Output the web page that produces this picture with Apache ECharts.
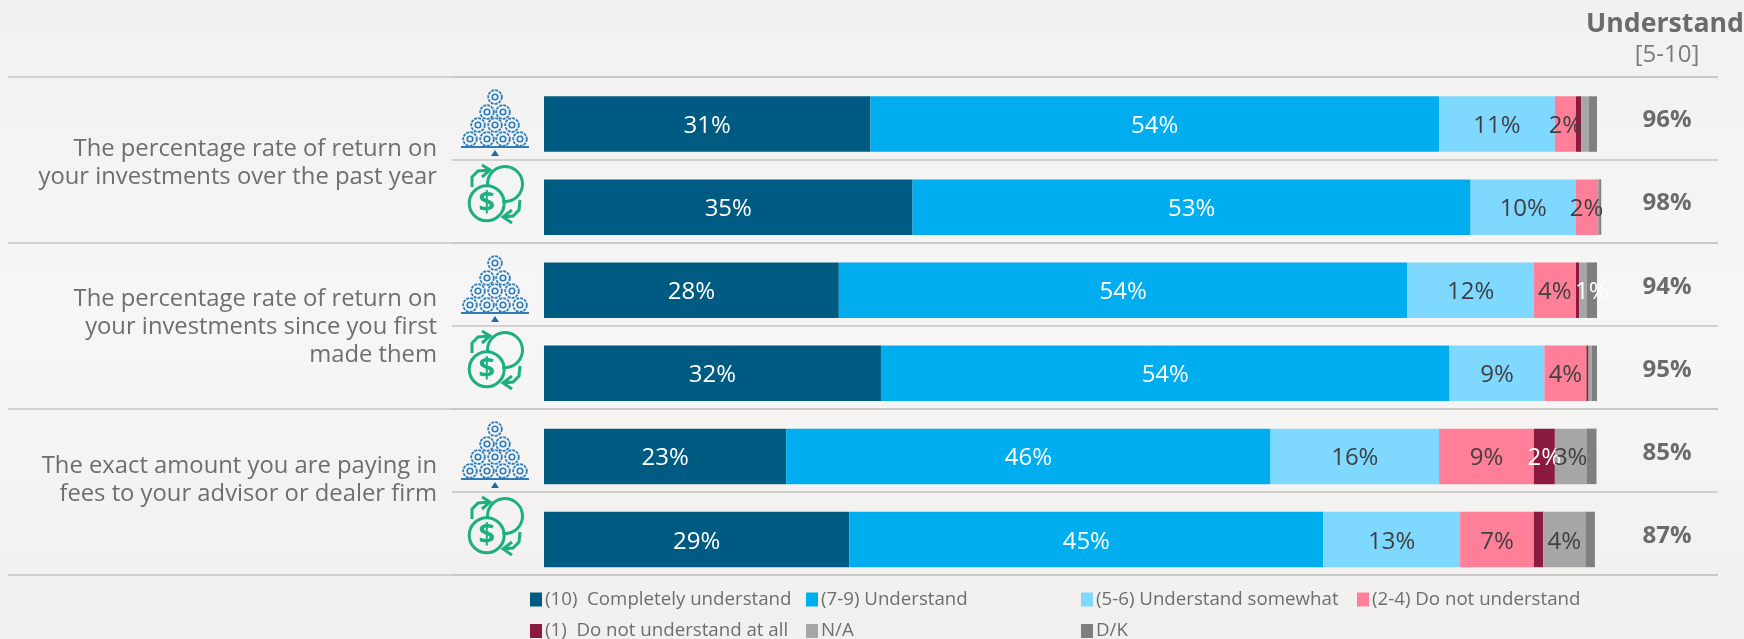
<!DOCTYPE html>
<html>
<head>
<meta charset="utf-8">
<style>html,body{margin:0;padding:0;background:#f5f4f4}#chart{width:1744px;height:639px}</style>
<script src="https://cdn.jsdelivr.net/npm/echarts@6/dist/echarts.min.js"></script>
</head>
<body>
<div id="chart"></div>
<script>
// Survey rows: each question is asked of two audiences, one row per audience.
const rows = ['Q1 A', 'Q1 B', 'Q2 A', 'Q2 B', 'Q3 A', 'Q3 B'];
const completely = [31, 35, 28, 32, 23, 29];
const understand = [54, 53, 54, 54, 46, 45];
const somewhat = [11, 10, 12, 9, 16, 13];
const doNot = [2, 2, 4, 4, 9, 7];
const notAtAll = [0.5, 0, 0.3, 0.2, 2, 0.9];
const notApplicable = [0.7, 0.2, 0.7, 0.3, 3, 4];
const dontKnow = [0.8, 0.2, 1, 0.5, 0.95, 0.9];
const understandTotals = ['96%', '98%', '94%', '95%', '85%', '87%'];
const questions = [
  'The percentage rate of return on\nyour investments over the past year',
  'The percentage rate of return on\nyour investments since you first\nmade them',
  'The exact amount you are paying in\nfees to your advisor or dealer firm'
];
const questionGroups = ['Q1', 'Q2', 'Q3'];
const seriesNames = ['(10)  Completely understand', '(7-9) Understand', '(5-6) Understand somewhat',
  '(2-4) Do not understand', '(1)  Do not understand at all', 'N/A', 'D/K'];

const FONT = '"Open Sans", "Noto Sans", sans-serif';
const seriesValues = [completely, understand, somewhat, doNot, notAtAll, notApplicable, dontKnow];
const colors = ['#005B82', '#00AEEF', '#7FD8FF', '#FF7F98', '#8B1A3F', '#A6A6A6', '#7F7F7F'];
const labelColors = ['#fff', '#fff', '#404040', '#404040', '#fff', '#404040', '#fff'];

const legendSlots = [[530, 0], [806, 0], [1081, 0], [1357, 0], [530, 1], [806, 1], [1081, 1]];
const RULE = { color: '#C6C6C6', width: 1.5 };

// Coin-stack icon, drawn around its top-left origin.
function coinIcon(ox, oy) {
  const blue = '#2A7DBA', out = [];
  const coin = [[55, 17], [47, 32], [63, 32], [38, 45], [55, 45], [72, 45], [30, 59], [47, 59], [63, 59], [80, 59]];
  coin.forEach(c => {
    out.push({ type: 'circle', shape: { cx: ox + c[0], cy: oy + c[1], r: 6.8 }, style: { fill: 'none', stroke: blue, lineWidth: 1.8, lineDash: [3, 1] }, silent: true });
    out.push({ type: 'circle', shape: { cx: ox + c[0], cy: oy + c[1], r: 2.8 }, style: { fill: 'none', stroke: blue, lineWidth: 1.6 }, silent: true });
  });
  out.push({ type: 'line', shape: { x1: ox + 21, y1: oy + 67, x2: ox + 89, y2: oy + 67 }, style: { stroke: blue, lineWidth: 2 }, silent: true });
  out.push({ type: 'polygon', shape: { points: [[ox + 55, oy + 70], [ox + 59, oy + 76], [ox + 51, oy + 76]] }, style: { fill: '#1F6AA5' }, silent: true });
  return out;
}

// Circulating-money icon: dollar coin, second coin and two return arrows.
function moneyIcon(ox, oy) {
  const green = '#1CAF80', st = { fill: 'none', stroke: green, lineWidth: 3 }, out = [];
  out.push({ type: 'circle', shape: { cx: ox + 46.7, cy: oy + 123.3, r: 17.5 }, style: st, silent: true });
  out.push({ type: 'arc', shape: { cx: ox + 65, cy: oy + 104, r: 17.5, startAngle: -Math.PI * 1.05, endAngle: Math.PI * 0.55 }, style: st, silent: true });
  out.push({ type: 'polyline', shape: { points: [[ox + 32, oy + 107], [ox + 32, oy + 97], [ox + 38, oy + 91], [ox + 50, oy + 90]] }, style: st, silent: true });
  out.push({ type: 'polyline', shape: { points: [[ox + 42, oy + 85], [ox + 50, oy + 90], [ox + 42, oy + 97]] }, style: st, silent: true });
  out.push({ type: 'polyline', shape: { points: [[ox + 80, oy + 120], [ox + 79, oy + 130], [ox + 73, oy + 136], [ox + 63, oy + 137]] }, style: st, silent: true });
  out.push({ type: 'polyline', shape: { points: [[ox + 72, oy + 130], [ox + 63, oy + 137], [ox + 72, oy + 143]] }, style: st, silent: true });
  out.push({ type: 'text', style: { x: ox + 46.7, y: oy + 123.5, text: '$', fill: green, font: 'bold 29px ' + FONT, align: 'center', verticalAlign: 'middle' }, silent: true });
  return out;
}

const graphics = [];
const questionCentres = [163.5, 327.5, 480];
questions.forEach((q, i) => graphics.push({
  type: 'text',
  style: { x: 437, y: questionCentres[i], text: q, fill: '#6E6E6E', font: '400 23.8px ' + FONT, align: 'right', verticalAlign: 'middle', lineHeight: 28 },
  silent: true
}));
for (let g = 0; g < 3; g++) {
  graphics.push(...coinIcon(440, 80 + g * 166));
  graphics.push(...moneyIcon(440, 80 + g * 166));
}
graphics.push({ type: 'text', style: { x: 1744, y: 24, text: 'Understand', fill: '#6B6B6B', font: 'bold 26.7px ' + FONT, align: 'right', verticalAlign: 'middle' }, silent: true });
graphics.push({ type: 'text', style: { x: 1667, y: 55, text: '[5-10]', fill: '#7A7A7A', font: '400 24px ' + FONT, align: 'center', verticalAlign: 'middle' }, silent: true });

const option = {
  animation: false,
  backgroundColor: {
    type: 'linear', x: 0, y: 0, x2: 0, y2: 1,
    colorStops: [{ offset: 0, color: '#F1F1F1' }, { offset: 0.5, color: '#F7F6F6' }, { offset: 1, color: '#F2F0EE' }]
  },
  grid: [
    { left: 544, right: 147, top: 82.5, height: 498.5 },
    { left: 452, right: 26, top: 76.5, height: 498.5 },
    { left: 8, right: 26, top: 76.5, height: 498.5 },
    { left: 1620, right: 26, top: 79, height: 498.5 }
  ],
  xAxis: [0, 1, 2, 3].map(g => g === 0
    ? { gridIndex: 0, type: 'value', min: 0, max: 100, show: false }
    : { gridIndex: g, type: 'value', min: 0, max: 1, show: false }),
  yAxis: [
    { gridIndex: 0, type: 'category', data: rows, inverse: true, show: false },
    {
      // Rules between rows.
      gridIndex: 1, type: 'category', data: rows, inverse: true,
      axisLine: { show: false },
      axisTick: { show: false },
      axisLabel: { show: false },
      splitLine: { show: true, lineStyle: RULE }
    },
    {
      // Full-width rules between question groups.
      gridIndex: 2, type: 'category', data: questionGroups, inverse: true,
      axisLine: { show: false },
      axisTick: { show: false },
      axisLabel: { show: false },
      splitLine: { show: true, lineStyle: RULE }
    },
    {
      // Right-hand summary column.
      gridIndex: 3, type: 'category', data: understandTotals, inverse: true, position: 'right',
      axisLine: { show: false },
      axisTick: { show: false },
      splitLine: { show: false },
      axisLabel: { inside: true, margin: 51, align: 'center', color: '#6B6B6B', fontFamily: FONT, fontWeight: 'bold', fontSize: 24 }
    }
  ],
  legend: seriesNames.map((name, i) => ({
    data: [name], left: legendSlots[i][0], top: 590 + legendSlots[i][1] * 31.5,
    itemWidth: 12, itemHeight: 14, icon: 'rect', padding: 0, itemGap: 0, selectedMode: false,
    textStyle: { color: '#6E6E6E', fontFamily: FONT, fontSize: 18.7, padding: [0, 0, 0, -2] }
  })),
  series: seriesNames.map((name, i) => ({
    name, type: 'bar', stack: 'total', xAxisIndex: 0, yAxisIndex: 0,
    data: seriesValues[i], barWidth: 55.5, clip: false,
    itemStyle: { color: colors[i] },
    label: {
      show: true, position: ['50%', '54%'], align: 'center', verticalAlign: 'middle',
      color: labelColors[i], fontFamily: FONT, fontSize: 24,
      formatter: p => (p.value >= 1 && Number.isInteger(p.value)) ? p.value + '%' : ''
    },
    labelLayout: { hideOverlap: false }
  })),
  graphic: { elements: graphics }
};
const chart = echarts.init(document.getElementById('chart'), null, { renderer: 'canvas' });
chart.setOption(option);
</script>
</body>
</html>
